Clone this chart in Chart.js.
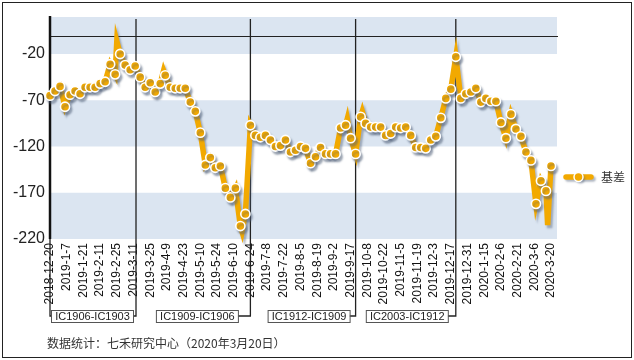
<!DOCTYPE html>
<html><head><meta charset="utf-8">
<script src="https://cdn.jsdelivr.net/npm/chart.js@4/dist/chart.umd.min.js"></script>
<style>html,body{margin:0;padding:0;background:#fff}</style>
</head><body>
<canvas id="c" width="634" height="360"></canvas>
<script>
// ---- data ----
const xTickLabels = ['2018-12-20','2019-1-7','2019-1-21','2019-2-11','2019-2-25','2019-3-11','2019-3-25','2019-4-9','2019-4-23','2019-5-10','2019-5-24','2019-6-10','2019-6-24','2019-7-8','2019-7-22','2019-8-5','2019-8-19','2019-9-2','2019-9-17','2019-10-8','2019-10-22','2019-11-5','2019-11-19','2019-12-3','2019-12-17','2019-12-31','2020-1-15','2020-2-6','2020-2-21','2020-3-6','2020-3-20'];
const yTicks = [-220, -170, -120, -70, -20];
// trading-day index (10 days between x tick labels)
const tradeDays = [0,3,6,9,12,15,18,21,24,27,30,33,36,39,40,42,45,48,51,54,57,60,63,66,68,69,72,75,78,81,84,87,90,93,96,99,102,105,108,111,114,115,117,120,123,126,129,132,135,138,141,144,147,150,153,156,159,162,165,168,171,174,177,178,180,183,186,187,189,192,195,198,201,204,207,210,213,216,219,222,225,228,231,234,237,240,243,246,249,252,255,258,261,264,267,270,273,276,279,282,285,288,291,294,297,298,300];
const basis = [-65,-60,-55,-77,-64,-60,-63,-56,-56,-56,-52,-50,-31,-42,-6,-20,-32,-37,-33,-45,-56,-51,-61,-52,-38,-43,-56,-57,-57,-57,-72,-82,-105,-140,-132,-143,-141,-165,-175,-165,-206,-212,-193,-97,-108,-110,-108,-113,-120,-119,-113,-126,-124,-120,-122,-138,-131,-121,-128,-128,-128,-100,-97,-90,-111,-128,-88,-82,-95,-99,-99,-99,-108,-106,-99,-100,-99,-108,-121,-121,-122,-113,-109,-89,-68,-58,-23,-68,-63,-61,-57,-72,-68,-71,-71,-94,-111,-85,-101,-109,-126,-135,-182,-157,-168,-205,-141];
const lineOnlyDays = [40, 68, 115, 178, 187, 298];
const rollDays = [0, 51.5, 120, 183, 243];
const contracts = ['IC1906-IC1903', 'IC1909-IC1906', 'IC1912-IC1909', 'IC2003-IC1912'];
const shadedBands = [[-220, -170], [-120, -70], [-20, 20]];
const seriesName = '基差';
const sourceNote = '数据统计：七禾研究中心（2020年3月20日）';

// ---- style ----
const ORANGE = '#F2A900';
const BAND = '#DBE5F1';
const FONT = "'Liberation Sans', Arial, sans-serif";
const CJK = "'Noto Sans CJK SC', sans-serif";

const points = tradeDays.map((d, i) => ({ x: d, y: basis[i] }));

const decor = {
  id: 'decor',
  beforeDraw(chart) {
    const c = chart.ctx;
    c.save();
    c.fillStyle = '#fff';
    c.fillRect(0, 0, chart.width, chart.height);
    c.strokeStyle = '#222';
    c.lineWidth = 1;
    c.strokeRect(2.5, 2.5, 629, 355);
    c.restore();
  },
  beforeDatasetsDraw(chart) {
    const c = chart.ctx, a = chart.chartArea;
    const xs = chart.scales.x, ys = chart.scales.y;
    c.save();
    c.fillStyle = BAND;
    shadedBands.forEach(([lo, hi]) => {
      const y1 = ys.getPixelForValue(hi), y2 = ys.getPixelForValue(lo);
      c.fillRect(a.left, y1, a.right - a.left, y2 - y1);
    });
    // zero line
    const y0 = Math.round(ys.getPixelForValue(0)) + 0.5;
    c.strokeStyle = '#222';
    c.lineWidth = 1;
    c.beginPath(); c.moveTo(a.left, y0); c.lineTo(a.right + 1, y0); c.stroke();
    // roll lines + boxes
    const boxTop = 310, boxBot = 322, connY = 316, boxW = 82;
    const gaps = [3, 12.5, 6, 8];
    c.lineWidth = 1.3;
    c.font = '11px ' + FONT;
    c.textAlign = 'center';
    c.textBaseline = 'middle';
    contracts.forEach((name, i) => {
      const endX = xs.getPixelForValue(rollDays[i + 1]);
      const right = endX - gaps[i], left = right - boxW;
      c.strokeStyle = '#222';
      c.beginPath();
      c.moveTo(endX, 19); c.lineTo(endX, connY); c.lineTo(right, connY);
      c.stroke();
      if (i === 0) {
        const sx = xs.getPixelForValue(rollDays[0]);
        c.beginPath(); c.moveTo(sx, a.bottom); c.lineTo(sx, connY); c.lineTo(left, connY); c.stroke();
      }
      c.fillStyle = '#fff';
      c.fillRect(left, boxTop, boxW, boxBot - boxTop);
      c.strokeStyle = '#555';
      c.lineWidth = 1;
      c.strokeRect(left + 0.5, boxTop + 0.5, boxW, boxBot - boxTop);
      c.lineWidth = 1.3;
      c.fillStyle = '#222';
      c.fillText(name, (left + right) / 2 + 0.5, (boxTop + boxBot) / 2 + 1);
    });
    // y axis line
    c.strokeStyle = '#111';
    c.lineWidth = 2.5;
    c.beginPath(); c.moveTo(a.left, a.top - 1); c.lineTo(a.left, a.bottom); c.stroke();
    c.restore();
  },
  beforeDatasetDraw(chart) {
    const c = chart.ctx;
    c.save();
    c.shadowColor = 'rgba(80,95,120,0.45)';
    c.shadowOffsetX = 2;
    c.shadowOffsetY = 3;
    c.shadowBlur = 2;
  },
  afterDatasetDraw(chart) {
    chart.ctx.restore();
  },
  afterDraw(chart) {
    const c = chart.ctx;
    c.save();
    // legend
    const ly = 177;
    c.shadowColor = 'rgba(80,95,120,0.45)';
    c.shadowOffsetX = 2; c.shadowOffsetY = 2; c.shadowBlur = 2;
    c.strokeStyle = ORANGE; c.lineWidth = 5.5; c.lineCap = 'round';
    c.beginPath(); c.moveTo(566, ly); c.lineTo(591, ly); c.stroke();
    c.beginPath(); c.arc(578.5, ly, 4.5, 0, Math.PI * 2);
    c.fillStyle = ORANGE; c.fill();
    c.shadowColor = 'transparent';
    c.strokeStyle = '#fff'; c.lineWidth = 1.5; c.stroke();
    c.fillStyle = '#333';
    c.font = '12px ' + CJK;
    c.textAlign = 'left'; c.textBaseline = 'middle';
    c.fillText(seriesName, 601, ly);
    // source note
    c.font = '12px ' + CJK;
    c.fillStyle = '#333';
    c.fillText(sourceNote, 47, 343);
    c.restore();
  }
};

new Chart(document.getElementById('c'), {
  type: 'line',
  data: {
    datasets: [{
      label: seriesName,
      data: points,
      borderColor: ORANGE,
      backgroundColor: ORANGE,
      borderWidth: 5.5,
      tension: 0,
      borderJoinStyle: 'miter',
      pointRadius: ctx => lineOnlyDays.includes(tradeDays[ctx.dataIndex]) ? 0 : 4.6,
      pointBackgroundColor: ORANGE,
      pointBorderColor: '#fff',
      pointBorderWidth: 1.6,
      clip: false
    }]
  },
  options: {
    responsive: false,
    animation: false,
    devicePixelRatio: 1,
    layout: { padding: { top: 17, right: 77, left: 0, bottom: 0 } },
    plugins: { legend: { display: false }, tooltip: { enabled: false } },
    scales: {
      x: {
        type: 'linear', min: 0, max: 303.6,
        grid: { display: false, drawTicks: false },
        border: { display: false },
        afterBuildTicks: s => { s.ticks = xTickLabels.map((_, i) => ({ value: i * 10 })); },
        afterFit: s => { s.height = 121; },
        ticks: {
          autoSkip: false, minRotation: 90, maxRotation: 90, padding: 4,
          font: { family: FONT, size: 12 }, color: '#111',
          callback: v => xTickLabels[Math.round(v / 10)] || ''
        }
      },
      y: {
        min: -220, max: 20,
        grid: { display: false, drawTicks: false },
        border: { display: false },
        afterBuildTicks: s => { s.ticks = yTicks.map(v => ({ value: v })); },
        afterFit: s => { s.width = 50; },
        ticks: { padding: 5, font: { family: FONT, size: 16 }, color: '#222' }
      }
    }
  },
  plugins: [decor]
});
</script>
</body></html>
